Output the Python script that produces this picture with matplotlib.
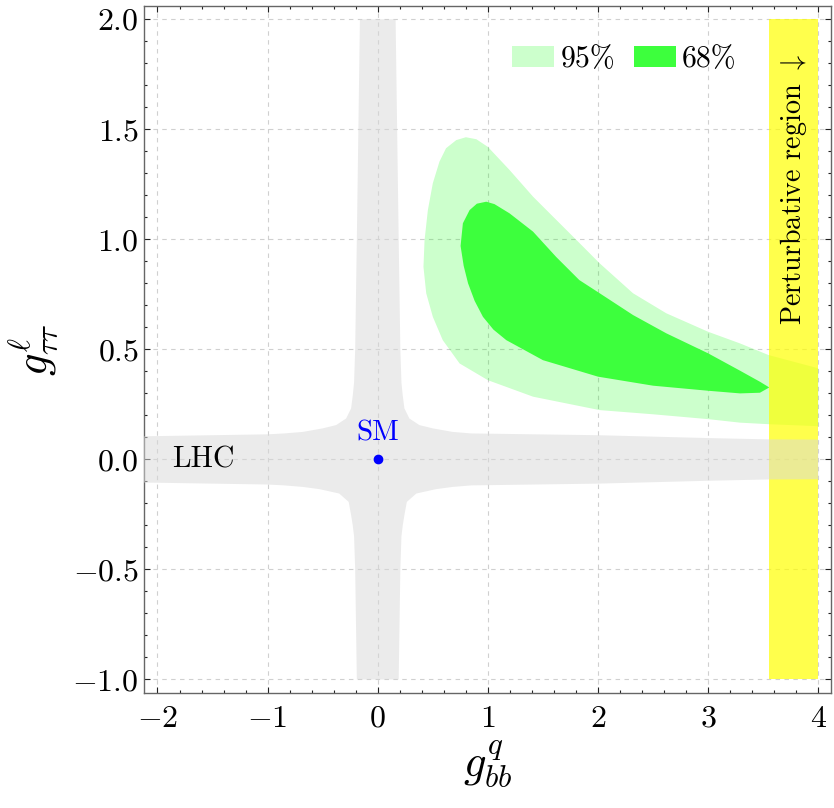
import numpy as np
import matplotlib
matplotlib.use("Agg")
import matplotlib.pyplot as plt
from matplotlib.patches import Patch
from matplotlib.ticker import MultipleLocator

plt.rcParams['font.family'] = 'serif'
plt.rcParams['font.serif'] = ['cmr10']
plt.rcParams['mathtext.fontset'] = 'cm'
plt.rcParams['axes.formatter.use_mathtext'] = True
plt.rcParams['axes.unicode_minus'] = True

# LHC allowed region (cross shaped), outline
lhc_x = [-0.162, -0.176, -0.19, -0.205, -0.215, -0.227, -0.242, -0.287, -0.378, -0.5, -0.68, -0.85,
         -1.0, -1.5, -2.0, -2.2,
         -2.2, -2.0, -1.5, -1.0, -0.85, -0.68, -0.53, -0.35, -0.264, -0.242, -0.227, -0.215, -0.205, -0.19,
         0.19, 0.205, 0.215, 0.227, 0.242, 0.264, 0.35, 0.53, 0.68, 0.85, 1.0, 2.0, 3.0, 3.55, 4.0,
         4.0, 3.55, 3.0, 2.0, 1.0, 0.85, 0.68, 0.5, 0.378, 0.287, 0.242, 0.227, 0.215, 0.205, 0.19, 0.176, 0.162]
lhc_y = [2.0, 1.5, 1.0, 0.5, 0.35, 0.29, 0.232, 0.186, 0.156, 0.141, 0.125, 0.118,
         0.114, 0.11, 0.106, 0.105,
         -0.105, -0.106, -0.11, -0.114, -0.118, -0.125, -0.135, -0.155, -0.193, -0.253, -0.30, -0.35, -0.5, -1.0,
         -1.0, -0.5, -0.35, -0.30, -0.253, -0.193, -0.155, -0.135, -0.125, -0.118, -0.117, -0.11, -0.097, -0.091, -0.09,
         0.09, 0.091, 0.097, 0.11, 0.117, 0.118, 0.125, 0.141, 0.156, 0.186, 0.232, 0.29, 0.35, 0.5, 1.0, 1.5, 2.0]

# 95% region
c95_x = [0.415, 0.425, 0.455, 0.50, 0.56, 0.62, 0.713, 0.80, 0.895, 1.0, 1.197, 1.41, 1.652, 1.834, 2.015,
         2.318, 2.62, 3.0, 3.29, 3.55, 4.0,
         4.0, 3.55, 3.29, 3.0, 2.5, 2.015, 1.41, 1.0, 0.743, 0.59, 0.50, 0.44]
c95_y = [0.875, 0.997, 1.133, 1.255, 1.353, 1.414, 1.451, 1.464, 1.455, 1.42, 1.315, 1.194, 1.073, 0.982, 0.891,
         0.755, 0.664, 0.58, 0.527, 0.474, 0.414,
         0.151, 0.16, 0.167, 0.183, 0.205, 0.224, 0.285, 0.36, 0.436, 0.542, 0.648, 0.755]

# 68% region
c68_x = [0.752, 0.773, 0.834, 0.90, 0.985, 1.06, 1.197, 1.41, 1.62, 1.83, 2.015, 2.318, 2.62, 3.0, 3.29, 3.47,
         3.555, 3.47, 3.29, 3.0, 2.5, 2.0, 1.5, 1.167, 1.05, 0.955, 0.88, 0.82, 0.78]
c68_y = [0.97, 1.073, 1.133, 1.162, 1.171, 1.16, 1.118, 1.035, 0.92, 0.815, 0.755, 0.656, 0.573, 0.482, 0.403, 0.353,
         0.327, 0.303, 0.30, 0.312, 0.335, 0.376, 0.451, 0.542, 0.59, 0.648, 0.72, 0.80, 0.88]

pert_x = [3.55, 4.0]
pert_y = [-1.0, 2.0]

sm = (0.0, 0.0)

fig = plt.figure(figsize=(8.34, 8.08), dpi=100)
ax = fig.add_axes([0.173, 0.1427, 0.824, 0.8498])

ax.fill(c95_x, c95_y, color=(0, 1, 0), alpha=0.2, lw=0, zorder=2)
ax.fill(c68_x, c68_y, color='#3dff3d', lw=0, zorder=3)
ax.fill_between(pert_x, pert_y[0], pert_y[1], color=(1, 1, 0), alpha=0.7, lw=0, zorder=4)
ax.fill(lhc_x, lhc_y, color='#d9d9d9', alpha=0.52, lw=0, zorder=5)

ax.plot(sm[0], sm[1], 'o', color='blue', ms=6, zorder=6)
ax.text(0, 0.12, 'SM', color='blue', fontsize=21, ha='center', va='center', zorder=6)
ax.text(-1.58, 0.0, 'LHC', fontsize=21.5, ha='center', va='center', zorder=6)
ax.text(3.775, 1.225, r'Perturbative region $\downarrow$', fontsize=20.3, rotation=90,
        ha='center', va='center', zorder=6)

ax.set_xlim(-2.12, 4.12)
ax.set_ylim(-1.06, 2.06)
ax.xaxis.set_major_locator(MultipleLocator(1))
ax.xaxis.set_minor_locator(MultipleLocator(0.2))
ax.yaxis.set_major_locator(MultipleLocator(0.5))
ax.yaxis.set_minor_locator(MultipleLocator(0.1))
ax.tick_params(which='both', direction='in', top=True, right=True, width=0.8, color='#222222')
ax.tick_params(which='major', length=4.5, labelsize=23, pad=9)
ax.tick_params(axis='y', which='major', pad=4)
ax.tick_params(which='minor', length=2.3)
for s in ax.spines.values():
    s.set_color('#666666')
    s.set_linewidth(1.0)

ax.grid(True, which='major', ls=(0, (4, 4)), color='#d0d0d0', lw=0.8, zorder=0)
ax.set_axisbelow(True)

ax.set_xlabel(r'$g^{q}_{bb}$', fontsize=32, labelpad=4)
ax.set_ylabel(r'$g^{\ell}_{\tau\tau}$', fontsize=32, labelpad=8)

handles = [Patch(facecolor=(0, 1, 0), alpha=0.2, lw=0), Patch(facecolor='#3dff3d', lw=0)]
ax.legend(handles, ['95%', '68%'], loc='center', bbox_to_anchor=(0.699, 0.922), ncol=2,
          frameon=False, fontsize=21.5, handlelength=1.4, handleheight=0.7,
          handletextpad=0.2, columnspacing=0.65, borderpad=0)

fig.savefig('out.png', dpi=100)
